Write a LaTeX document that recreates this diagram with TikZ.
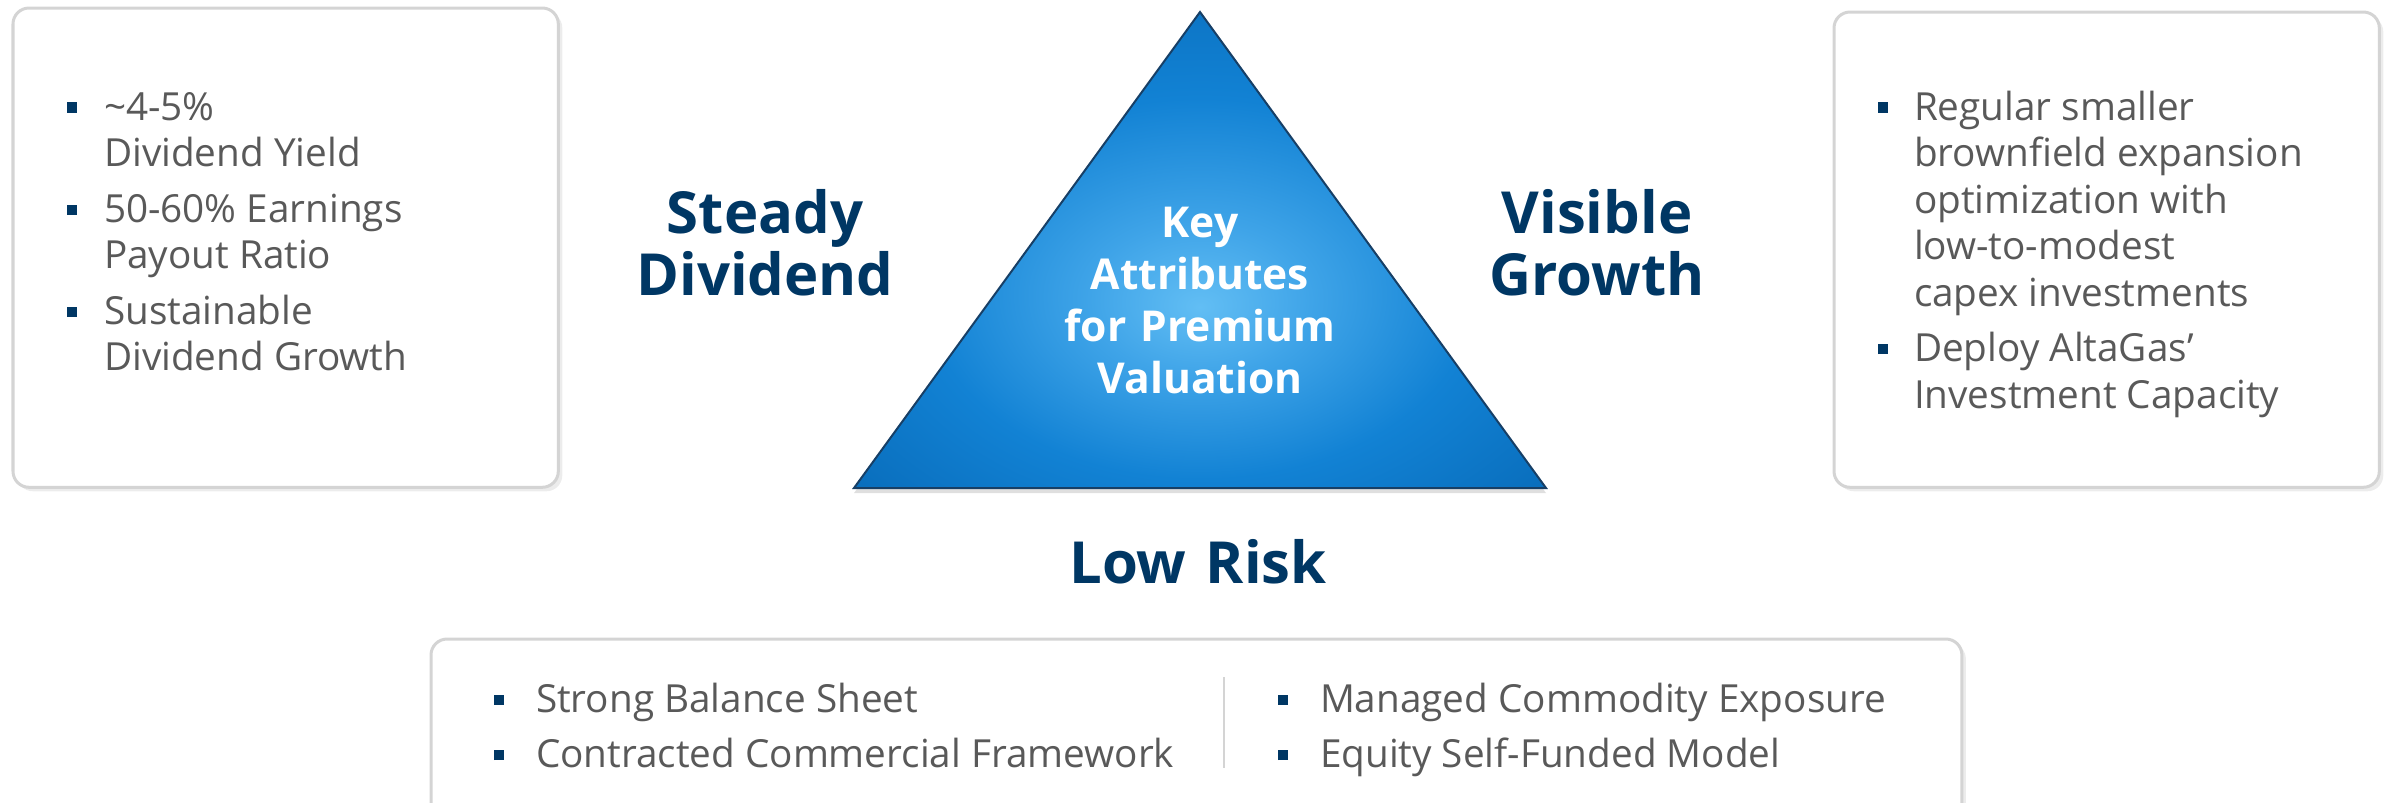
\documentclass[tikz,border=0pt]{standalone}
\usepackage{fontspec}
\setmainfont{Open Sans}
\usetikzlibrary{shadows}
\definecolor{navy}{HTML}{003764}
\definecolor{bodygray}{HTML}{595959}
\definecolor{rimgray}{HTML}{D4D4D4}
\definecolor{glowlight}{HTML}{62BEF4}
\definecolor{glowmid}{HTML}{3FA4E8}
\definecolor{triblue}{HTML}{1282D4}
\definecolor{trimid}{HTML}{0A70BF}
\definecolor{tridark}{HTML}{0A5A9E}
\definecolor{trideep}{HTML}{0A4A84}
\definecolor{triedge}{HTML}{173F66}
\pgfdeclareradialshading{keyglow}{\pgfpoint{0bp}{-6bp}}{color(0bp)=(glowlight); color(8bp)=(glowmid); color(20bp)=(triblue); color(32bp)=(trimid); color(46bp)=(tridark); color(62bp)=(trideep)}
\newcommand{\sqbul}[1][0.37cm]{\makebox[#1][l]{\textcolor{navy}{\rule[0.075cm]{0.1cm}{0.1cm}}}}
\begin{document}
\begin{tikzpicture}[x=0.01cm,y=-0.01cm,every node/.style={inner sep=0pt,outer sep=0pt},
infobox/.style={draw=rimgray,line width=0.03cm,fill=white,rounded corners=0.16cm,anchor=north west,drop shadow={shadow xshift=0.04cm,shadow yshift=-0.04cm,opacity=0.15}},
bullets/.style={text=bodygray,font=\fontsize{11pt}{13.23pt}\selectfont,anchor=base west},
headline/.style={text=navy,font=\bfseries\fontsize{16.5pt}{17.64pt}\selectfont,align=center,text width=5cm,anchor=base}]
\useasboundingbox (0,0) rectangle (2397,802);
% side and bottom panels
\node[infobox,minimum width=5.45cm,minimum height=4.79cm] (divbox) at (13,8) {};
\node[infobox,minimum width=5.45cm,minimum height=4.75cm] (growbox) at (1834,12) {};
\node[infobox,minimum width=15.3cm,minimum height=2.2cm] (riskbox) at (431,639) {};
\draw[rimgray,line width=0.02cm] (1224,677) -- (1224,768);
% triangle
\coordinate (apex) at (1200,12);
\coordinate (leftfoot) at (854,488);
\coordinate (rightfoot) at (1546,488);
\shade[shading=keyglow,draw=triedge,line width=0.02cm,drop shadow={shadow xshift=0cm,shadow yshift=-0.05cm,opacity=0.25}] (apex) -- (rightfoot) -- (leftfoot) -- cycle;
\node[text=white,font=\bfseries\fontsize{12.1pt}{14.8pt}\selectfont,align=center,text width=4cm,anchor=base] (keytext) at (1200,237) {Key\\Attributes\\for Premium\\Valuation};
% headings
\node[headline] (steady) at (765,233) {Steady\\Dividend};
\node[headline] (visible) at (1597,233) {Visible\\Growth};
\node[headline] (lowrisk) at (1198,583) {Low Risk};
% bullet texts
\node[bullets] (divtext) at (67,120) {\begin{tabular}[t]{@{}l@{}l@{}}
\sqbul & \textasciitilde4-5\% \\
 & Dividend Yield \\[0.09cm]
\sqbul & 50-60\% Earnings \\
 & Payout Ratio \\[0.09cm]
\sqbul & Sustainable \\
 & Dividend Growth
\end{tabular}};
\node[bullets] (growtext) at (1878,120) {\begin{tabular}[t]{@{}l@{}l@{}}
\sqbul[0.36cm] & Regular smaller \\
 & brownfield expansion \\
 & optimization with \\
 & low-to-modest \\
 & capex investments \\[0.09cm]
\sqbul[0.36cm] & Deploy AltaGas’ \\
 & Investment Capacity
\end{tabular}};
\node[bullets] (risklist) at (494,712) {\begin{tabular}[t]{@{}l@{}l@{}}
\sqbul[0.42cm] & Strong Balance Sheet \\[0.09cm]
\sqbul[0.42cm] & Contracted Commercial Framework
\end{tabular}};
\node[bullets] (fundlist) at (1278,712) {\begin{tabular}[t]{@{}l@{}l@{}}
\sqbul[0.42cm] & Managed Commodity Exposure \\[0.09cm]
\sqbul[0.42cm] & Equity Self-Funded Model
\end{tabular}};
\end{tikzpicture}
\end{document}
